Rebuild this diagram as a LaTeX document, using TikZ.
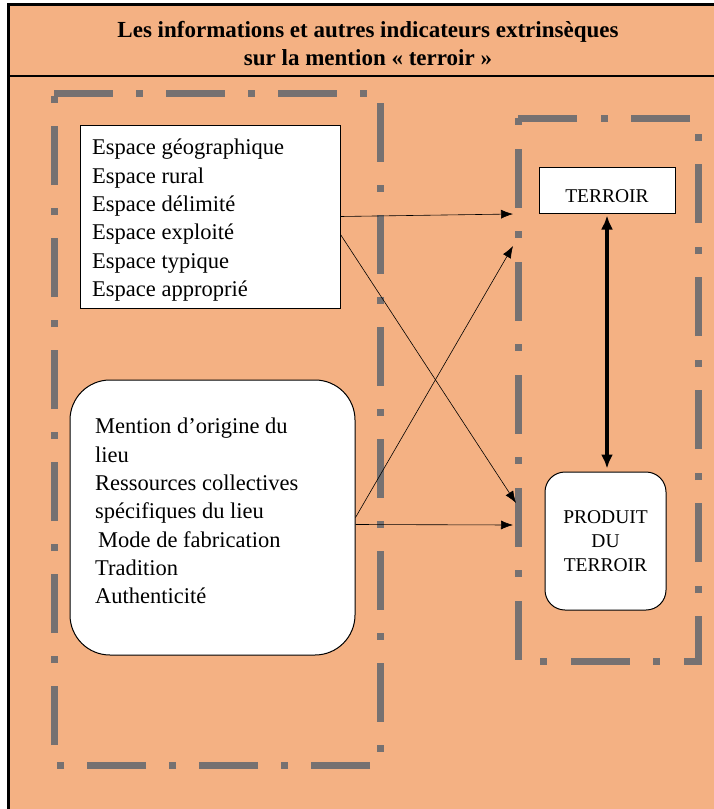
\documentclass[tikz,border=0pt]{standalone}
\usepackage{fontspec}
\setmainfont{Liberation Serif}
\usetikzlibrary{arrows.meta}
\definecolor{orangebg}{HTML}{F4B183}
\definecolor{dashgray}{HTML}{767171}
\tikzset{
  frame/.style={draw=dashgray, line width=7pt},
  textbox/.style={draw=black, fill=white, line width=1pt, inner sep=0pt},
  conn/.style={-{Latex[length=12pt,width=9pt]}, line width=0.6pt},
  body/.style={font=\fontsize{22.5pt}{28.3pt}\selectfont, align=left, inner sep=0pt},
  small/.style={font=\fontsize{19.5pt}{24pt}\selectfont, align=center, inner sep=0pt}
}
\begin{document}
\begin{tikzpicture}[x=1pt,y=-1pt]
\useasboundingbox (0,0) rectangle (713,809);
% background and frame
\fill[white] (0,0) rectangle (713,809);
\fill[orangebg] (8,4) rectangle (720,815);
\draw[line width=3pt] (8,815) -- (8,4) -- (720,4);
\draw[line width=2pt] (8,76) -- (720,76);
\node[font=\bfseries\fontsize{23pt}{28pt}\selectfont, align=center] (title) at (368,44)
  {Les informations et autres indicateurs extrinsèques\\sur la mention « terroir »};
% dash-dot frames
\draw[frame, dash pattern=on 59pt off 23pt on 7pt off 23pt] (54,93) -- (380,93) -- (380,765) -- (54,765) -- cycle;
\draw[frame, dash pattern=on 7pt off 24pt on 59pt off 23pt] (518,118) -- (518,661) -- (698,661) -- (698,118) -- cycle;
% left boxes
\node[textbox, minimum width=260pt, minimum height=183pt] (box1) at (210,216.5) {};
\node[body, anchor=north west] (t1) at (92,139)
  {Espace géographique\\Espace rural\\Espace délimité\\Espace exploité\\Espace typique\\Espace approprié};
\node[textbox, rounded corners=40pt, minimum width=285pt, minimum height=275pt] (box2) at (212.5,517.5) {};
\node[body, anchor=north west] (t2) at (95,418)
  {Mention d’origine du\\lieu\\Ressources collectives\\spécifiques du lieu\\\hspace{3pt}Mode de fabrication\\Tradition\\Authenticité};
% right boxes
\node[textbox, minimum width=136pt, minimum height=46pt] (terroir) at (607,190) {};
\node[small] (terroirtext) at (607,196) {TERROIR};
\node[textbox, rounded corners=20pt, minimum width=121pt, minimum height=138pt, small] (produit) at (605.5,541) {PRODUIT\\DU\\TERROIR};
% connectors
\coordinate (e1) at (513,214);
\coordinate (e2) at (516,503);
\coordinate (e3) at (513,246);
\coordinate (e4) at (513,525);
\draw[conn] (box1.east) -- (e1);
\draw[conn] ([yshift=-18pt]box1.east) -- (e2);
\draw[conn] (box2.east) -- (e3);
\draw[conn] ([yshift=-7pt]box2.east) -- (e4);
\draw[{Latex[length=14pt,width=12pt]}-{Latex[length=14pt,width=12pt]}, line width=4pt, shorten <=2pt, shorten >=3pt]
  (terroir.south) -- (terroir.south |- produit.north);
\end{tikzpicture}
\end{document}
